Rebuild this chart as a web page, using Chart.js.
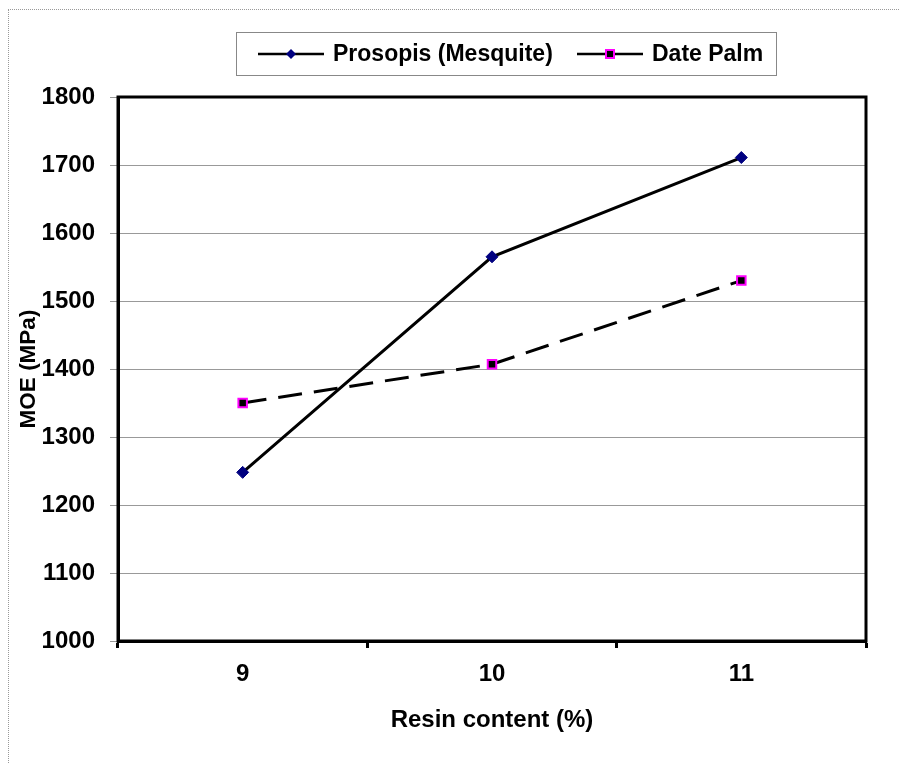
<!DOCTYPE html>
<html>
<head>
<meta charset="utf-8">
<script src="https://cdn.jsdelivr.net/npm/chart.js@4/dist/chart.umd.min.js"></script>
<style>
  html, body { margin: 0; padding: 0; background: #fff; }
  #page { position: absolute; left: 0; top: 0; width: 899px; height: 763px; }
  #edge { position: absolute; left: 8px; top: 9px; right: 0; bottom: 0;
          border-left: 1px dotted #999; border-top: 1px dotted #999; }
  canvas { position: absolute; left: 0; top: 0; }
</style>
</head>
<body>
<div id="page">
  <div id="edge"></div>
  <canvas id="chart" width="899" height="763"></canvas>
</div>
<script>
const categories = ['9', '10', '11'];
const prosopis = [1248, 1565, 1711];
const datePalm = [1350, 1407, 1530];
const seriesNames = ['Prosopis (Mesquite)', 'Date Palm'];

const FONT = '"Liberation Sans", Arial, sans-serif';

// outline of the plot area plus the boxed legend at the top
const framePlugin = {
  id: 'frame',
  afterDraw(chart) {
    const ctx = chart.ctx;
    const a = chart.chartArea;
    ctx.save();
    ctx.strokeStyle = '#000';
    ctx.lineWidth = 3;
    ctx.strokeRect(a.left, a.top, a.right - a.left, a.bottom - a.top);

    // legend
    ctx.lineWidth = 1;
    ctx.strokeStyle = '#888';
    ctx.strokeRect(236.5, 32.5, 540, 43);
    ctx.font = 'bold 23px ' + FONT;
    ctx.textBaseline = 'middle';
    ctx.fillStyle = '#000';
    const items = [
      { x: 258, ds: chart.data.datasets[0] },
      { x: 577, ds: chart.data.datasets[1] }
    ];
    const y = 54;
    items.forEach(it => {
      ctx.strokeStyle = '#000';
      ctx.lineWidth = 2.5;
      ctx.setLineDash([]);
      ctx.beginPath();
      ctx.moveTo(it.x, y);
      ctx.lineTo(it.x + 66, y);
      ctx.stroke();
      const mx = it.x + 33;
      if (it.ds.pointStyle === 'rectRot') {
        ctx.fillStyle = it.ds.pointBackgroundColor;
        ctx.beginPath();
        ctx.moveTo(mx, y - 5); ctx.lineTo(mx + 5, y); ctx.lineTo(mx, y + 5); ctx.lineTo(mx - 5, y);
        ctx.closePath();
        ctx.fill();
      } else {
        ctx.fillStyle = it.ds.pointBackgroundColor;
        ctx.fillRect(mx - 4, y - 4, 8, 8);
        ctx.strokeStyle = it.ds.pointBorderColor;
        ctx.lineWidth = 2;
        ctx.strokeRect(mx - 4, y - 4, 8, 8);
      }
      ctx.fillStyle = '#000';
      ctx.fillText(it.ds.label, it.x + 75, y + 1);
    });
    ctx.restore();
  }
};

new Chart(document.getElementById('chart'), {
  type: 'line',
  data: {
    labels: categories,
    datasets: [
      {
        label: seriesNames[0],
        data: prosopis,
        borderColor: '#000',
        borderWidth: 3,
        pointStyle: 'rectRot',
        pointRadius: 6,
        pointBackgroundColor: '#000080',
        pointBorderColor: '#000080',
        pointBorderWidth: 1,
        tension: 0
      },
      {
        label: seriesNames[1],
        data: datePalm,
        borderColor: '#000',
        borderWidth: 3,
        borderDash: [24, 12],
        pointStyle: 'rect',
        pointRadius: 6,
        pointBackgroundColor: '#000',
        pointBorderColor: '#ff00ff',
        pointBorderWidth: 2,
        tension: 0
      }
    ]
  },
  options: {
    responsive: false,
    animation: false,
    layout: { padding: { top: 97, right: 33, left: 0, bottom: 0 } },
    plugins: {
      legend: { display: false },
      tooltip: { enabled: false }
    },
    scales: {
      x: {
        offset: true,
        afterFit(scale) { scale.height = 122; },
        grid: {
          offset: true,
          drawOnChartArea: false,
          drawTicks: true,
          tickLength: 7,
          tickWidth: 3,
          tickColor: '#000'
        },
        border: { color: '#000', width: 3 },
        ticks: {
          color: '#000',
          padding: 12,
          font: { family: FONT, size: 24, weight: 'bold' }
        },
        title: {
          display: true,
          text: 'Resin content (%)',
          color: '#000',
          font: { family: FONT, size: 24, weight: 'bold' },
          padding: { top: 0, bottom: 28 }
        }
      },
      y: {
        min: 1000,
        max: 1800,
        afterFit(scale) { scale.width = 118; },
        grid: {
          color: '#999',
          lineWidth: 1,
          tickLength: 8
        },
        border: { color: '#000', width: 3 },
        ticks: {
          stepSize: 100,
          color: '#000',
          padding: 15,
          font: { family: FONT, size: 24, weight: 'bold' },
          callback: v => String(v)
        },
        title: {
          display: true,
          text: 'MOE (MPa)',
          color: '#000',
          font: { family: FONT, size: 22.5, weight: 'bold' },
          padding: { top: 15, bottom: 0 }
        }
      }
    }
  },
  plugins: [framePlugin]
});
</script>
</body>
</html>
